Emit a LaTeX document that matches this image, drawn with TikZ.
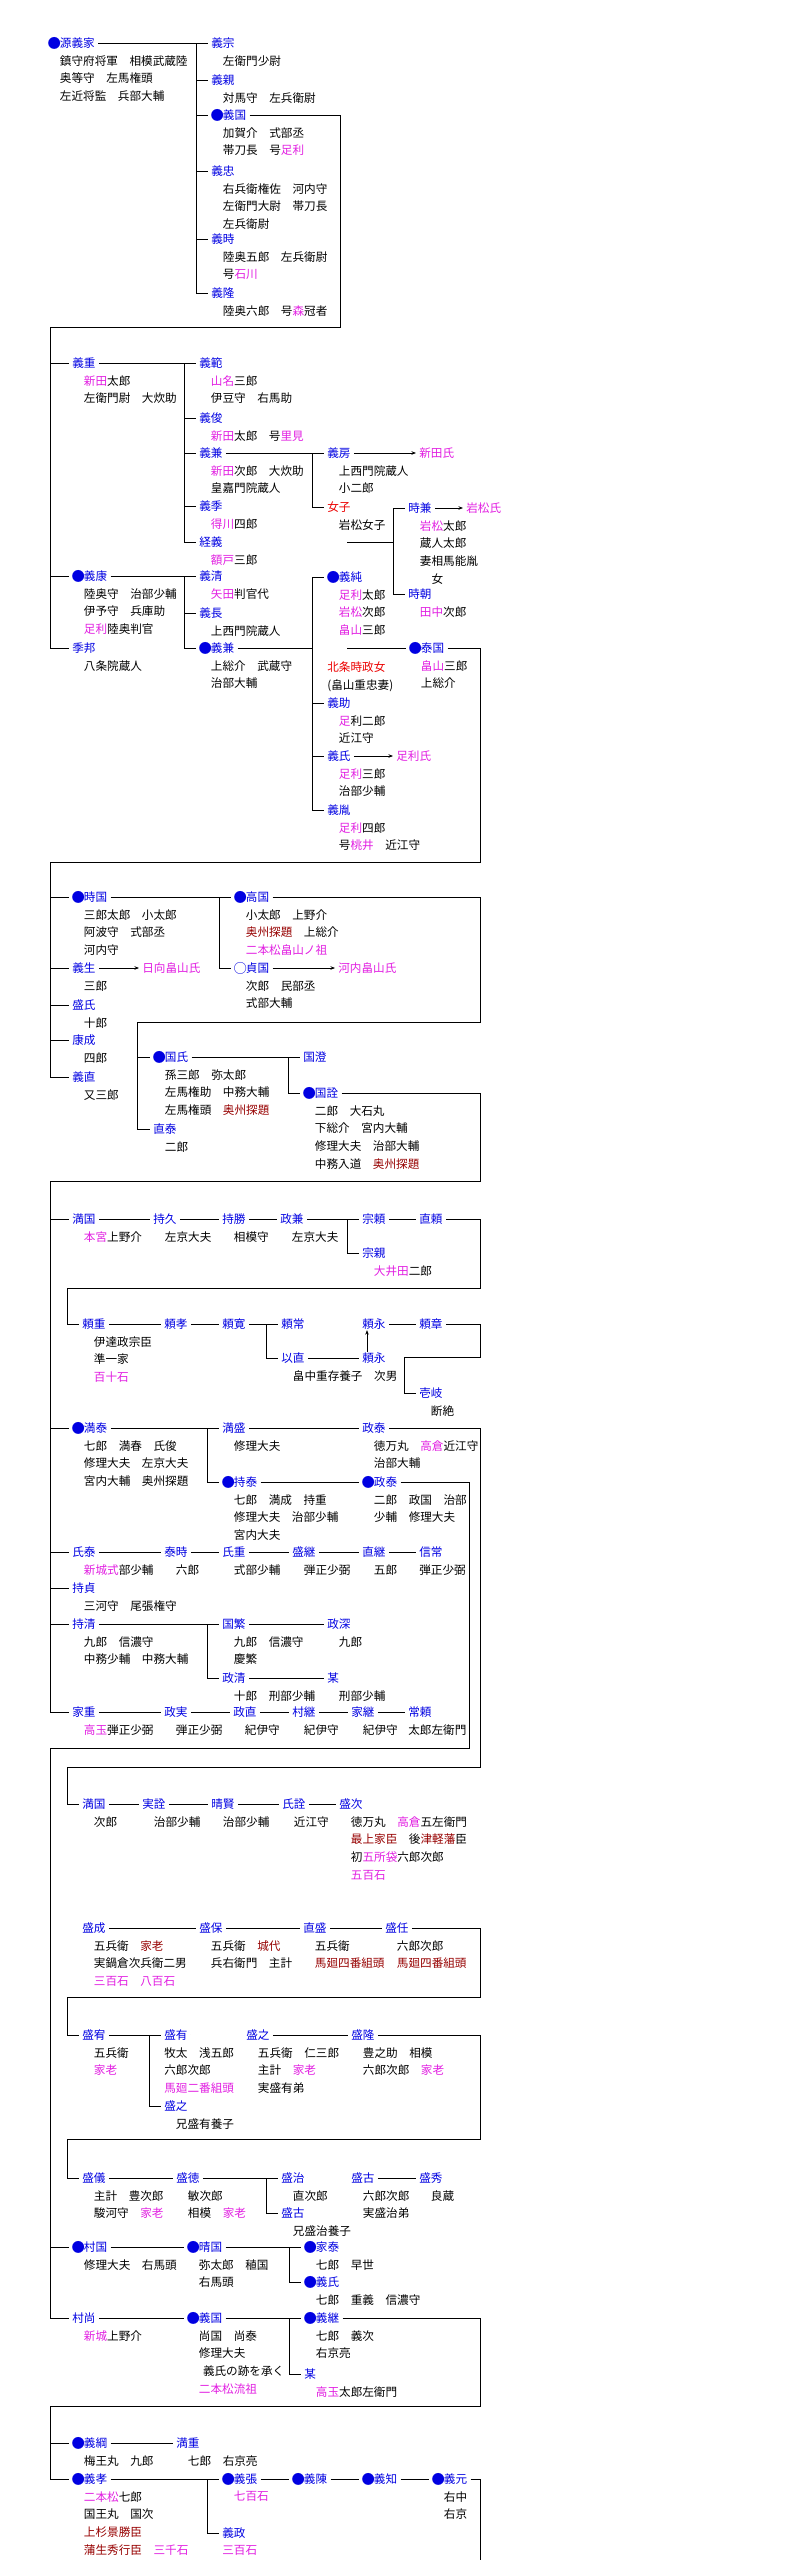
\documentclass[tikz,border=0pt]{standalone}
\usepackage{graphicx}
\usepackage{fontspec}
\setmainfont{Noto Sans CJK JP}
\usetikzlibrary{arrows.meta}
\definecolor{nblue}{RGB}{0,0,225}
\definecolor{mag}{RGB}{225,30,225}
\definecolor{dred}{RGB}{150,0,0}
\definecolor{fred}{RGB}{235,0,0}
\newcommand\mgt[1]{\textcolor{mag}{#1}}
\newcommand\drt[1]{\textcolor{dred}{#1}}
\newcommand\pdot{\makebox[1em][c]{\raisebox{-0.06em}{\scalebox{1.15}{●}}}}
\newcommand\podot{\makebox[1em][c]{\raisebox{-0.06em}{\scalebox{1.15}{○}}}}
\tikzset{
  nm/.style={anchor=west, xshift=-3pt, inner xsep=3pt, inner ysep=0pt, text height=10.2pt, text depth=1.4pt, text=nblue},
  ds/.style={anchor=north west, xshift=14.6pt, yshift=-12pt, inner sep=0pt, align=left},
  dbl/.style={double, double distance=1.6pt, line width=0.6pt},
  arr/.style={-{Stealth[length=4.5pt,width=3.5pt]}}
}
\begin{document}
\begin{tikzpicture}[x=1pt,y=-1pt,line width=0.75pt,every node/.style={font=\fontsize{11.6pt}{17.7pt}\selectfont}]
\useasboundingbox (0,0) rectangle (794,2560);
\node[nm] (1) at (48,43) {\pdot 源義家};
\node[ds] (d1) at (1.west) {鎮守府将軍　相模武蔵陸\\奥等守　左馬権頭\\左近将監　兵部大輔};
\node[nm] (2) at (211,43) {義宗};
\node[ds] (d2) at (2.west) {左衛門少尉};
\node[nm] (3) at (211,80) {義親};
\node[ds] (d3) at (3.west) {対馬守　左兵衛尉};
\node[nm] (4) at (211,115) {\pdot 義国};
\node[ds] (d4) at (4.west) {加賀介　式部丞\\帯刀長　号\mgt{足利}};
\node[nm] (5) at (211,171) {義忠};
\node[ds] (d5) at (5.west) {右兵衛権佐　河内守\\左衛門大尉　帯刀長\\左兵衛尉};
\node[nm] (6) at (211,239) {義時};
\node[ds] (d6) at (6.west) {陸奥五郎　左兵衛尉\\号\mgt{石川}};
\node[nm] (7) at (211,293) {義隆};
\node[ds] (d7) at (7.west) {陸奥六郎　号\mgt{森}冠者};
\node[nm] (8) at (72,363) {義重};
\node[ds] (d8) at (8.west) {\mgt{新田}太郎\\左衛門尉　大炊助};
\node[nm] (9) at (199,363) {義範};
\node[ds] (d9) at (9.west) {\mgt{山名}三郎\\伊豆守　右馬助};
\node[nm] (10) at (199,418) {義俊};
\node[ds] (d10) at (10.west) {\mgt{新田}太郎　号\mgt{里見}};
\node[nm] (11) at (199,453) {義兼};
\node[ds] (d11) at (11.west) {\mgt{新田}次郎　大炊助\\皇嘉門院蔵人};
\node[nm] (12) at (199,506) {義季};
\node[ds] (d12) at (12.west) {\mgt{得川}四郎};
\node[nm] (13) at (199,542) {経義};
\node[ds] (d13) at (13.west) {\mgt{額戸}三郎};
\node[nm] (14) at (327,453) {義房};
\node[ds] (d14) at (14.west) {上西門院蔵人\\小二郎};
\node[nm,text=mag] (15) at (419,453) {新田氏};
\node[nm,text=fred] (16) at (327,507) {女子};
\node[ds] (d16) at (16.west) {岩松女子};
\node[nm] (17) at (408,508) {時兼};
\node[ds] (d17) at (17.west) {\mgt{岩松}太郎\\蔵人太郎\\妻相馬能胤\\　女};
\node[nm,text=mag] (18) at (466,508) {岩松氏};
\node[nm] (19) at (408,594) {時朝};
\node[ds] (d19) at (19.west) {\mgt{田中}次郎};
\node[nm] (20) at (72,576) {\pdot 義康};
\node[ds] (d20) at (20.west) {陸奥守　治部少輔\\伊予守　兵庫助\\\mgt{足利}陸奥判官};
\node[nm] (21) at (199,576) {義清};
\node[ds] (d21) at (21.west) {\mgt{矢田}判官代};
\node[nm] (22) at (199,613) {義長};
\node[ds] (d22) at (22.west) {上西門院蔵人};
\node[nm] (23) at (199,648) {\pdot 義兼};
\node[ds] (d23) at (23.west) {上総介　武蔵守\\治部大輔};
\node[nm] (24) at (72,648) {季邦};
\node[ds] (d24) at (24.west) {八条院蔵人};
\node[nm] (25) at (327,577) {\pdot 義純};
\node[ds] (d25) at (25.west) {\mgt{足利}太郎\\\mgt{岩松}次郎\\\mgt{畠山}三郎};
\node[nm,text=fred] (26) at (327,667) {北条時政女};
\node[ds,xshift=-11.6pt] (d26) at (26.west) {(畠山重忠妻)};
\node[nm] (27) at (409,648) {\pdot 泰国};
\node[ds] (d27) at (27.west) {\mgt{畠山}三郎\\上総介};
\node[nm] (28) at (327,703) {義助};
\node[ds] (d28) at (28.west) {\mgt{足}利二郎\\近江守};
\node[nm] (29) at (327,756) {義氏};
\node[ds] (d29) at (29.west) {\mgt{足利}三郎\\治部少輔};
\node[nm,text=mag] (30) at (396,756) {足利氏};
\node[nm] (31) at (327,810) {義胤};
\node[ds] (d31) at (31.west) {\mgt{足利}四郎\\号\mgt{桃井}　近江守};
\node[nm] (32) at (72,897) {\pdot 時国};
\node[ds] (d32) at (32.west) {三郎太郎　小太郎\\阿波守　式部丞\\河内守};
\node[nm] (33) at (234,897) {\pdot 高国};
\node[ds] (d33) at (33.west) {小太郎　上野介\\\drt{奥州探題}　上総介\\\mgt{二本松畠山ノ祖}};
\node[nm] (34) at (234,968) {\podot 貞国};
\node[ds] (d34) at (34.west) {次郎　民部丞\\式部大輔};
\node[nm,text=mag] (35) at (338,968) {河内畠山氏};
\node[nm] (36) at (72,968) {義生};
\node[ds] (d36) at (36.west) {三郎};
\node[nm,text=mag] (37) at (142,968) {日向畠山氏};
\node[nm] (38) at (72,1005) {盛氏};
\node[ds] (d38) at (38.west) {十郎};
\node[nm] (39) at (72,1040) {康成};
\node[ds] (d39) at (39.west) {四郎};
\node[nm] (40) at (72,1077) {義直};
\node[ds] (d40) at (40.west) {又三郎};
\node[nm] (41) at (153,1057) {\pdot 国氏};
\node[ds] (d41) at (41.west) {孫三郎　弥太郎\\左馬権助　中務大輔\\左馬権頭　\drt{奥州探題}};
\node[nm] (42) at (153,1129) {直泰};
\node[ds] (d42) at (42.west) {二郎};
\node[nm] (43) at (303,1057) {国澄};
\node[nm] (44) at (303,1093) {\pdot 国詮};
\node[ds] (d44) at (44.west) {二郎　大石丸\\下総介　宮内大輔\\修理大夫　治部大輔\\中務入道　\drt{奥州探題}};
\node[nm] (45) at (72,1219) {満国};
\node[ds] (d45) at (45.west) {\mgt{本宮}上野介};
\node[nm] (46) at (153,1219) {持久};
\node[ds] (d46) at (46.west) {左京大夫};
\node[nm] (47) at (222,1219) {持勝};
\node[ds] (d47) at (47.west) {相模守};
\node[nm] (48) at (280,1219) {政兼};
\node[ds] (d48) at (48.west) {左京大夫};
\node[nm] (49) at (362,1219) {宗頼};
\node[nm] (50) at (362,1253) {宗親};
\node[ds] (d50) at (50.west) {\mgt{大井田}二郎};
\node[nm] (51) at (419,1219) {直頼};
\node[nm] (52) at (82,1324) {頼重};
\node[ds] (d52) at (52.west) {伊達政宗臣\\準一家\\\mgt{百十石}};
\node[nm] (53) at (164,1324) {頼孝};
\node[nm] (54) at (222,1324) {頼寛};
\node[nm] (55) at (281,1324) {頼常};
\node[nm] (56) at (281,1358) {以直};
\node[ds] (d56) at (56.west) {畠中重存養子　次男};
\node[nm] (57) at (362,1324) {頼永};
\node[nm] (58) at (362,1358) {頼永};
\node[nm] (59) at (419,1324) {頼章};
\node[nm] (60) at (419,1393) {壱岐};
\node[ds] (d60) at (60.west) {断絶};
\node[nm] (61) at (72,1428) {\pdot 満泰};
\node[ds] (d61) at (61.west) {七郎　満春　氏俊\\修理大夫　左京大夫\\宮内大輔　奥州探題};
\node[nm] (62) at (222,1428) {満盛};
\node[ds] (d62) at (62.west) {修理大夫};
\node[nm] (63) at (362,1428) {政泰};
\node[ds] (d63) at (63.west) {徳万丸　\mgt{高倉}近江守\\治部大輔};
\node[nm] (64) at (222,1482) {\pdot 持泰};
\node[ds] (d64) at (64.west) {七郎　満成　持重\\修理大夫　治部少輔\\宮内大夫};
\node[nm] (65) at (362,1482) {\pdot 政泰};
\node[ds] (d65) at (65.west) {二郎　政国　治部\\少輔　修理大夫};
\node[nm] (66) at (72,1552) {氏泰};
\node[ds] (d66) at (66.west) {\mgt{新城式}部少輔};
\node[nm] (67) at (164,1552) {泰時};
\node[ds] (d67) at (67.west) {六郎};
\node[nm] (68) at (222,1552) {氏重};
\node[ds] (d68) at (68.west) {式部少輔};
\node[nm] (69) at (292,1552) {盛継};
\node[ds] (d69) at (69.west) {弾正少弼};
\node[nm] (70) at (362,1552) {直継};
\node[ds] (d70) at (70.west) {五郎};
\node[nm] (71) at (419,1552) {信常};
\node[ds,xshift=-11.6pt] (d71) at (71.west) {弾正少弼};
\node[nm] (72) at (72,1588) {持貞};
\node[ds] (d72) at (72.west) {三河守　尾張権守};
\node[nm] (73) at (72,1624) {持清};
\node[ds] (d73) at (73.west) {九郎　信濃守\\中務少輔　中務大輔};
\node[nm] (74) at (222,1624) {国繁};
\node[ds] (d74) at (74.west) {九郎　信濃守\\慶繁};
\node[nm] (75) at (327,1624) {政深};
\node[ds] (d75) at (75.west) {九郎};
\node[nm] (76) at (222,1678) {政清};
\node[ds] (d76) at (76.west) {十郎　刑部少輔};
\node[nm] (77) at (327,1678) {某};
\node[ds] (d77) at (77.west) {刑部少輔};
\node[nm] (78) at (72,1712) {家重};
\node[ds] (d78) at (78.west) {\mgt{高玉}弾正少弼};
\node[nm] (79) at (164,1712) {政実};
\node[ds] (d79) at (79.west) {弾正少弼};
\node[nm] (80) at (233,1712) {政直};
\node[ds] (d80) at (80.west) {紀伊守};
\node[nm] (81) at (292,1712) {村継};
\node[ds] (d81) at (81.west) {紀伊守};
\node[nm] (82) at (351,1712) {家継};
\node[ds] (d82) at (82.west) {紀伊守};
\node[nm] (83) at (408,1712) {常頼};
\node[ds,xshift=-11.6pt] (d83) at (83.west) {太郎左衛門};
\node[nm] (84) at (82,1804) {満国};
\node[ds] (d84) at (84.west) {次郎};
\node[nm] (85) at (142,1804) {実詮};
\node[ds] (d85) at (85.west) {治部少輔};
\node[nm] (86) at (211,1804) {晴賢};
\node[ds] (d86) at (86.west) {治部少輔};
\node[nm] (87) at (282,1804) {氏詮};
\node[ds] (d87) at (87.west) {近江守};
\node[nm] (88) at (339,1804) {盛次};
\node[ds] (d88) at (88.west) {徳万丸　\mgt{高倉}五左衛門\\\drt{最上家臣}　後\drt{津軽藩}臣\\初\mgt{五所袋}六郎次郎\\\mgt{五百石}};
\node[nm] (89) at (82,1928) {盛成};
\node[ds] (d89) at (89.west) {五兵衛　\drt{家老}\\実鍋倉次兵衛二男\\\mgt{三百石　八百石}};
\node[nm] (90) at (199,1928) {盛保};
\node[ds] (d90) at (90.west) {五兵衛　\drt{城代}\\兵右衛門　主計};
\node[nm] (91) at (303,1928) {直盛};
\node[ds] (d91) at (91.west) {五兵衛\\\drt{馬廻四番組頭}};
\node[nm] (92) at (385,1928) {盛任};
\node[ds] (d92) at (92.west) {六郎次郎\\\drt{馬廻四番組頭}};
\node[nm] (93) at (82,2035) {盛宥};
\node[ds] (d93) at (93.west) {五兵衛\\\mgt{家老}};
\node[nm] (94) at (164,2035) {盛有};
\node[ds,xshift=-11.6pt] (d94) at (94.west) {牧太　浅五郎\\六郎次郎\\\mgt{馬廻二番組頭}};
\node[nm] (95) at (246,2035) {盛之};
\node[ds] (d95) at (95.west) {五兵衛　仁三郎\\主計　\mgt{家老}\\実盛有弟};
\node[nm] (96) at (351,2035) {盛隆};
\node[ds] (d96) at (96.west) {豊之助　相模\\六郎次郎　\mgt{家老}};
\node[nm] (97) at (164,2106) {盛之};
\node[ds] (d97) at (97.west) {兄盛有養子};
\node[nm] (98) at (82,2178) {盛儀};
\node[ds] (d98) at (98.west) {主計　豊次郎\\駿河守　\mgt{家老}};
\node[nm] (99) at (176,2178) {盛徳};
\node[ds] (d99) at (99.west) {敏次郎\\相模　\mgt{家老}};
\node[nm] (100) at (281,2178) {盛治};
\node[ds] (d100) at (100.west) {直次郎};
\node[nm] (101) at (281,2213) {盛古};
\node[ds] (d101) at (101.west) {兄盛治養子};
\node[nm] (102) at (351,2178) {盛古};
\node[ds] (d102) at (102.west) {六郎次郎\\実盛治弟};
\node[nm] (103) at (419,2178) {盛秀};
\node[ds] (d103) at (103.west) {良蔵};
\node[nm] (104) at (72,2247) {\pdot 村国};
\node[ds] (d104) at (104.west) {修理大夫　右馬頭};
\node[nm] (105) at (187,2247) {\pdot 晴国};
\node[ds] (d105) at (105.west) {弥太郎　稙国\\右馬頭};
\node[nm] (106) at (304,2247) {\pdot 家泰};
\node[ds] (d106) at (106.west) {七郎　早世};
\node[nm] (107) at (304,2282) {\pdot 義氏};
\node[ds] (d107) at (107.west) {七郎　重義　信濃守};
\node[nm] (108) at (72,2318) {村尚};
\node[ds] (d108) at (108.west) {\mgt{新城}上野介};
\node[nm] (109) at (187,2318) {\pdot 義国};
\node[ds] (d109) at (109.west) {尚国　尚泰\\修理大夫\\\hspace*{0.35em}義氏の跡を承く\\\mgt{二本松流祖}};
\node[nm] (110) at (304,2318) {\pdot 義継};
\node[ds] (d110) at (110.west) {七郎　義次\\右京亮};
\node[nm] (111) at (304,2374) {某};
\node[ds] (d111) at (111.west) {\mgt{高玉}太郎左衛門};
\node[nm] (112) at (72,2443) {\pdot 義綱};
\node[ds] (d112) at (112.west) {梅王丸　九郎};
\node[nm] (113) at (176,2443) {満重};
\node[ds] (d113) at (113.west) {七郎　右京亮};
\node[nm] (114) at (72,2479) {\pdot 義孝};
\node[ds] (d114) at (114.west) {\mgt{二本松}七郎\\国王丸　国次\\\drt{上杉景勝臣}\\\drt{蒲生秀行臣}　\mgt{三千石}};
\node[nm] (115) at (222,2479) {\pdot 義張};
\node[ds] (d115) at (115.west) {\mgt{七百石}};
\node[nm] (116) at (222,2533) {義政};
\node[ds,xshift=-11.6pt] (d116) at (116.west) {\mgt{三百石}};
\node[nm] (117) at (292,2479) {\pdot 義陳};
\node[nm] (118) at (362,2479) {\pdot 義知};
\node[nm] (119) at (432,2479) {\pdot 義元};
\node[ds] (d119) at (119.west) {右中\\右京};
\coordinate (t2) at ([xshift=-12pt]2.west);
\coordinate (t9) at ([xshift=-12pt]9.west);
\coordinate (t14) at ([xshift=-12pt]14.west);
\coordinate (t17) at ([xshift=-12pt]17.west);
\coordinate (t21) at ([xshift=-12pt]21.west);
\coordinate (t25) at ([xshift=-12pt]25.west);
\coordinate (t33) at ([xshift=-12pt]33.west);
\coordinate (t43) at ([xshift=-12pt]43.west);
\coordinate (t49) at ([xshift=-12pt]49.west);
\coordinate (t55) at ([xshift=-12pt]55.west);
\coordinate (t62) at ([xshift=-12pt]62.west);
\coordinate (t74) at ([xshift=-12pt]74.west);
\coordinate (t94) at ([xshift=-12pt]94.west);
\coordinate (t100) at ([xshift=-12pt]100.west);
\coordinate (t106) at ([xshift=-12pt]106.west);
\coordinate (t110) at ([xshift=-12pt]110.west);
\coordinate (t115) at ([xshift=-12pt]115.west);
\coordinate (c1) at (340,327);
\coordinate (c2) at (50,327);
\coordinate (c3) at (480,862);
\coordinate (c4) at (50,862);
\coordinate (c5) at (480,1022);
\coordinate (c6) at (137,1022);
\coordinate (c7) at (480,1181);
\coordinate (c8) at (50,1181);
\coordinate (c9) at (480,1288);
\coordinate (c10) at (67,1288);
\coordinate (c11) at (480,1357);
\coordinate (c12) at (404,1357);
\coordinate (c13) at (480,1767);
\coordinate (c14) at (67,1767);
\coordinate (c15) at (469,1748);
\coordinate (c16) at (50,1748);
\coordinate (c17) at (480,1890);
\coordinate (c18) at (67,1890);
\coordinate (c19) at (480,1997);
\coordinate (c20) at (67,1997);
\coordinate (c21) at (480,2139);
\coordinate (c22) at (67,2139);
\coordinate (c23) at (480,2406);
\coordinate (c24) at (50,2406);
\coordinate (c25) at (480,2560);
\coordinate (w1) at (347,532);
\coordinate (w2) at (347,571);
\coordinate (w3) at (347,640);
\coordinate (w4) at (347,657);
\coordinate (m1) at (347,542);
\coordinate (m2) at (347,648);
\begin{scope}[-]
\draw (1) to (2);
\draw (t2) |- (3);
\draw (t2) |- (4);
\draw (t2) |- (5);
\draw (t2) |- (6);
\draw (t2) |- (7);
\draw (4) -| (c1) -- (c2) |- (8);
\draw (c2) |- (20);
\draw (c2) |- (24);
\draw (8) to (9);
\draw (t9) |- (10);
\draw (t9) |- (11);
\draw (t9) |- (12);
\draw (t9) |- (13);
\draw (11) to (14);
\draw (t14) |- (16);
\draw[arr] (14) to (15);
\draw[dbl] (w1) -- (w2);
\draw[dbl] (w3) -- (w4);
\draw (m1) -- (t17 |- m1);
\draw (t17) to (17);
\draw (t17) |- (19);
\draw[arr] (17) to (18);
\draw (20) to (21);
\draw (t21) |- (22);
\draw (t21) |- (23);
\draw (23) -- (t25 |- 23);
\draw (t25) to (25);
\draw (t25) |- (28);
\draw (t25) |- (29);
\draw (t25) |- (31);
\draw (m2) to (27);
\draw[arr] (29) to (30);
\draw (27) -| (c3) -- (c4) |- (32);
\draw (c4) |- (36);
\draw (c4) |- (38);
\draw (c4) |- (39);
\draw (c4) |- (40);
\draw (32) to (33);
\draw (t33) |- (34);
\draw[arr] (34) to (35);
\draw[arr] (36) to (37);
\draw (33) -| (c5) -- (c6) |- (41);
\draw (c6) |- (42);
\draw (41) to (43);
\draw (t43) |- (44);
\draw (44) -| (c7) -- (c8) |- (45);
\draw (c8) |- (61);
\draw (c8) |- (66);
\draw (c8) |- (72);
\draw (c8) |- (73);
\draw (c8) |- (78);
\draw (45) to (46);
\draw (46) to (47);
\draw (47) to (48);
\draw (48) to (49);
\draw (t49) |- (50);
\draw (49) to (51);
\draw (51) -| (c9) -- (c10) |- (52);
\draw (52) to (53);
\draw (53) to (54);
\draw (54) to (55);
\draw (t55) |- (56);
\draw[dbl] (55) to (57);
\draw (56) to (58);
\draw[arr,line width=0.5pt] ([xshift=8pt]58.north west) -- ([xshift=8pt]57.south west);
\draw (57) to (59);
\draw (59) -| (c11) -- (c12) |- (60);
\draw (61) to (62);
\draw (t62) |- (64);
\draw (62) to (63);
\draw (64) to (65);
\draw (63) -| (c13) -- (c14) |- (84);
\draw (65) -| (c15) -- (c16) |- (104);
\draw (c16) |- (108);
\draw (66) to (67);
\draw (67) to (68);
\draw (68) to (69);
\draw (69) to (70);
\draw (70) to (71);
\draw (73) to (74);
\draw (t74) |- (76);
\draw (74) to (75);
\draw (76) to (77);
\draw (78) to (79);
\draw (79) to (80);
\draw (80) to (81);
\draw (81) to (82);
\draw (82) to (83);
\draw (84) to (85);
\draw (85) to (86);
\draw (86) to (87);
\draw (87) to (88);
\draw[dbl] (88) -| (c17) -- (c18) |- (89);
\draw (89) to (90);
\draw (90) to (91);
\draw (91) to (92);
\draw (92) -| (c19) -- (c20) |- (93);
\draw (93) to (94);
\draw (t94) |- (97);
\draw[dbl] (94) to (95);
\draw (95) to (96);
\draw (96) -| (c21) -- (c22) |- (98);
\draw (98) to (99);
\draw (99) to (100);
\draw (t100) |- (101);
\draw[dbl] (100) to (102);
\draw (102) to (103);
\draw (104) to (105);
\draw (105) to (106);
\draw (t106) |- (107);
\draw (108) to (109);
\draw (109) to (110);
\draw (t110) |- (111);
\draw (110) -| (c23) -- (c24) |- (112);
\draw (c24) |- (114);
\draw (112) to (113);
\draw (114) to (115);
\draw (t115) |- (116);
\draw (115) to (117);
\draw (117) to (118);
\draw (118) to (119);
\draw (119) -| (c25);
\end{scope}
\end{tikzpicture}
\end{document}
